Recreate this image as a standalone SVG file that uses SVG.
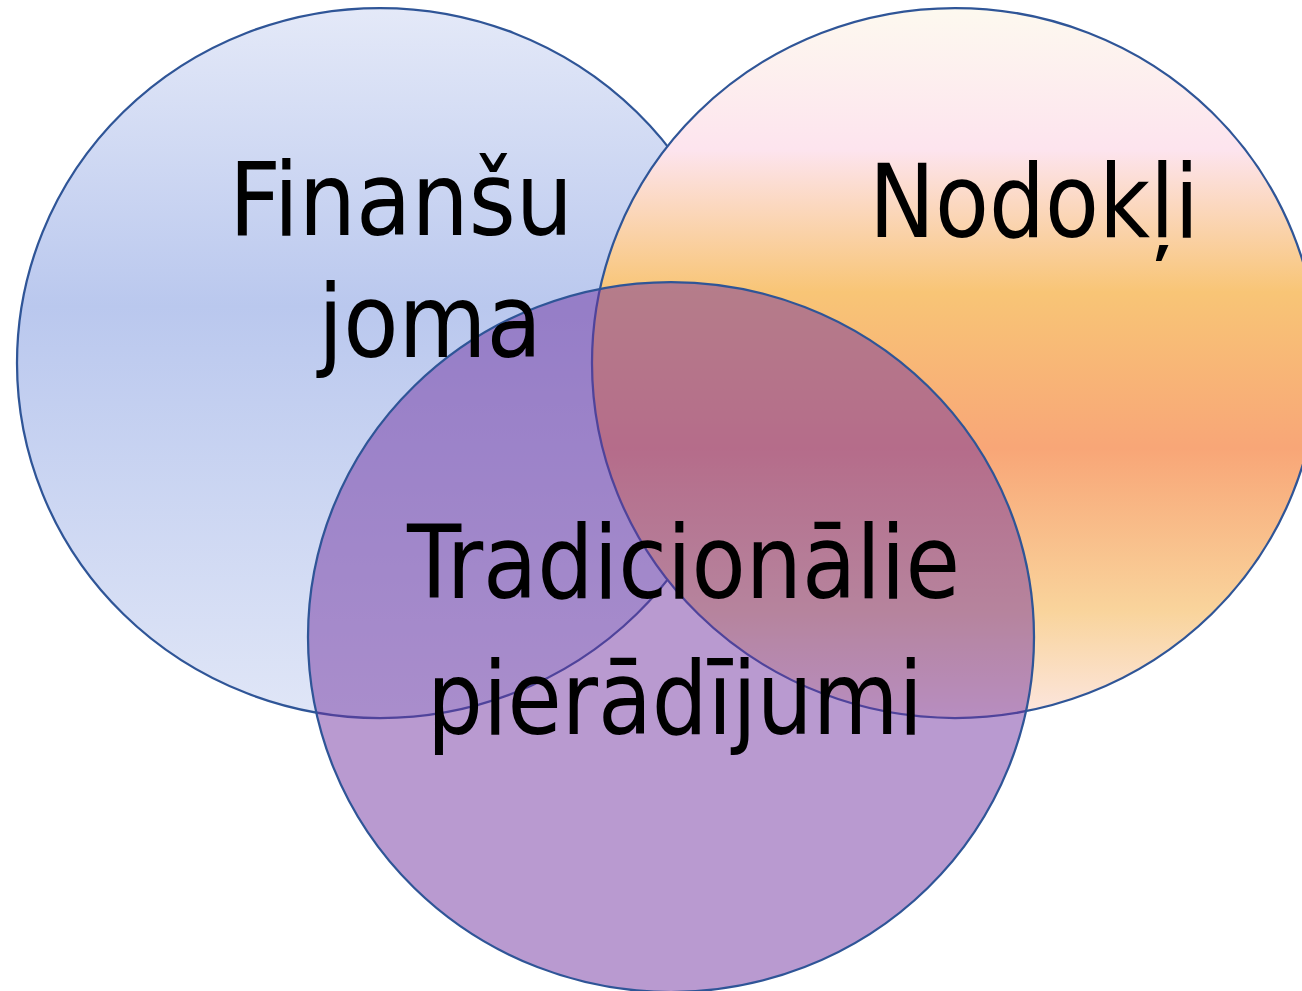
<svg xmlns="http://www.w3.org/2000/svg" width="1302" height="991" viewBox="0 0 1302 991">
<defs>
<linearGradient id="gBlue" gradientUnits="userSpaceOnUse" x1="0" y1="8" x2="0" y2="718">
<stop offset="0" stop-color="#e4e9f8"/>
<stop offset="0.42" stop-color="#bac8ee"/>
<stop offset="1" stop-color="#e0e6f7"/>
</linearGradient>
<linearGradient id="gOrange" gradientUnits="userSpaceOnUse" x1="0" y1="8" x2="0" y2="718">
<stop offset="0" stop-color="#fdf9ef"/>
<stop offset="0.2" stop-color="#fde4ee"/>
<stop offset="0.4" stop-color="#f8c576"/>
<stop offset="0.62" stop-color="#f8a677"/>
<stop offset="0.85" stop-color="#f9d49c"/>
<stop offset="1" stop-color="#fce6e0"/>
</linearGradient>
</defs>
<style>
.c{stroke:#2f5597;stroke-width:2.25}
.t{font-family:"DejaVu Sans","Liberation Sans",sans-serif;font-stretch:condensed;font-size:101px;fill:#000}
</style>
<rect width="1302" height="991" fill="#ffffff"/>
<g id="finansu">
<ellipse class="c" cx="380" cy="363" rx="363" ry="355" fill="url(#gBlue)"/>
</g>
<g id="nodokli">
<ellipse class="c" cx="955" cy="363" rx="363" ry="355" fill="url(#gOrange)"/>
</g>
<g id="tradicionalie">
<ellipse class="c" cx="671" cy="637" rx="363" ry="355" fill="#7030a0" fill-opacity="0.49"/>
</g>
<g id="labels">
<text class="t" x="229" y="235" textLength="344" lengthAdjust="spacingAndGlyphs">Finanšu</text>
<text class="t" x="318" y="357" textLength="224" lengthAdjust="spacingAndGlyphs">joma</text>
<text class="t" x="869" y="237" textLength="330" lengthAdjust="spacingAndGlyphs">Nodokļi</text>
<text class="t" x="407" y="598" textLength="553" lengthAdjust="spacingAndGlyphs">Tradicionālie</text>
<text class="t" x="427" y="734" textLength="496" lengthAdjust="spacingAndGlyphs">pierādījumi</text>
</g>
</svg>
